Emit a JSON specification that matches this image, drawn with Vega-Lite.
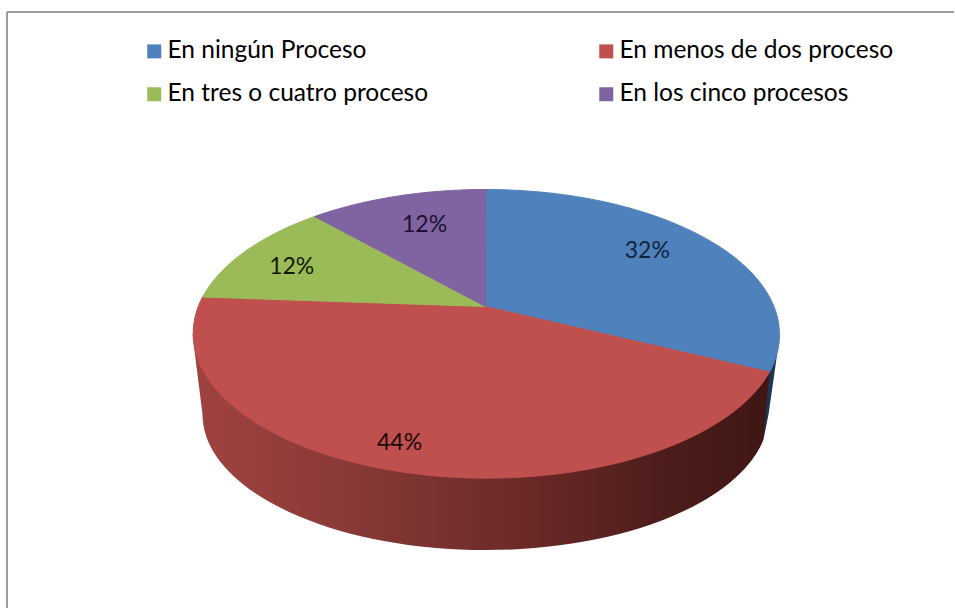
{
  "$schema": "https://vega.github.io/schema/vega-lite/v6.json",
  "width": 955,
  "height": 609,
  "autosize": {"type": "fit", "contains": "padding"},
  "padding": 0,
  "background": "white",
  "config": {"view": {"stroke": null}},
  "data": {"values": [
    {"id": "a", "slice": "En ningún Proceso", "pct": 32, "label": "32%"},
    {"id": "b", "slice": "En menos de dos proceso", "pct": 44, "label": "44%"},
    {"id": "c", "slice": "En tres o cuatro proceso", "pct": 12, "label": "12%"},
    {"id": "d", "slice": "En los cinco procesos", "pct": 12, "label": "12%"}
  ]},
  "encoding": {
    "x": {"datum": 0, "type": "quantitative", "axis": null, "scale": {"domain": [-477.5, 477.5]}},
    "y": {"datum": 0, "type": "quantitative", "axis": null, "scale": {"domain": [-304.5, 304.5], "reverse": true}}
  },
  "layer": [
    {
      "mark": {"type": "rule", "color": "#9c9c9c", "strokeWidth": 2},
      "encoding": {
        "x": {"datum": -470.5, "type": "quantitative"},
        "y": {"datum": -292.5, "type": "quantitative"},
        "y2": {"datum": 304.5}
      }
    },
    {
      "mark": {"type": "rule", "color": "#9c9c9c", "strokeWidth": 2},
      "encoding": {
        "x": {"datum": -470.5, "type": "quantitative"},
        "x2": {"datum": 477.5},
        "y": {"datum": -292.5, "type": "quantitative"}
      }
    },
    {
      "transform": [{"filter": "datum.id === 'a'"}],
      "mark": {"type": "point", "filled": true, "opacity": 1, "size": 4, "fill": "#1f3557", "stroke": null,
        "shape": "M280 60L301.5 40.5L291.5 110.5L286.5 135.5Z"}
    },
    {
      "transform": [{"filter": "datum.id === 'b'"}],
      "mark": {"type": "point", "filled": true, "opacity": 1, "size": 4, "stroke": null,
        "shape": "M-284.5 30.5L292.5 68L286.5 135.5A283 136 0 0 1 -274.5 110.5Z",
        "fill": {"gradient": "linear", "x1": 0, "y1": 0, "x2": 1, "y2": 0, "stops": [
          {"offset": 0, "color": "#a04340"},
          {"offset": 0.3, "color": "#863836"},
          {"offset": 0.55, "color": "#6d2b29"},
          {"offset": 0.8, "color": "#4f1e1c"},
          {"offset": 1, "color": "#3f1614"}
        ]}}
    },
    {
      "mark": {"type": "point", "filled": true, "opacity": 1, "size": 4, "strokeWidth": 1},
      "encoding": {
        "shape": {"field": "id", "type": "nominal", "legend": null, "scale": {
          "domain": ["a", "b", "c", "d"],
          "range": [
            "M8.5 2.5L9 -114.5A293.5 145 0 0 1 292.5 68Z",
            "M8.5 2.5L292.5 68A293.5 145 0 0 1 -274.5 -7Z",
            "M8.5 2.5L-274.5 -7A293.5 145 0 0 1 -162.5 -87.5Z",
            "M8.5 2.5L-162.5 -87.5A293.5 145 0 0 1 9 -114.5Z"
          ]
        }},
        "stroke": {"field": "id", "type": "nominal", "legend": null, "scale": {
          "domain": ["a", "b", "c", "d"],
          "range": ["#4f81bd", "#c0504d", "#9bbb59", "#8064a2"]
        }},
        "color": {"field": "slice", "type": "nominal",
          "scale": {
            "domain": ["En ningún Proceso", "En menos de dos proceso", "En tres o cuatro proceso", "En los cinco procesos"],
            "range": ["#4f81bd", "#c0504d", "#9bbb59", "#8064a2"]
          },
          "legend": {
            "title": null, "orient": "none", "direction": "horizontal", "legendX": 142, "legendY": 39, "columns": 2, "padding": 0,
            "columnPadding": 165, "rowPadding": 18, "symbolType": "square", "symbolSize": 196, "symbolStrokeWidth": 0,
            "labelFont": "Lato", "labelFontSize": 24.5, "labelColor": "#000000", "labelOffset": 1, "labelLimit": 400
          }
        }
      }
    },
    {
      "transform": [{"filter": "datum.id === 'a'"}],
      "mark": {"type": "text", "font": "Lato", "fontSize": 23, "color": "#15233a"},
      "encoding": {"x": {"datum": 170.5, "type": "quantitative"}, "y": {"datum": -53.5, "type": "quantitative"}, "text": {"field": "label"}}
    },
    {
      "transform": [{"filter": "datum.id === 'b'"}],
      "mark": {"type": "text", "font": "Lato", "fontSize": 23, "color": "#1a0a0a"},
      "encoding": {"x": {"datum": -77.5, "type": "quantitative"}, "y": {"datum": 139.5, "type": "quantitative"}, "text": {"field": "label"}}
    },
    {
      "transform": [{"filter": "datum.id === 'c'"}],
      "mark": {"type": "text", "font": "Lato", "fontSize": 23, "color": "#111a08"},
      "encoding": {"x": {"datum": -185.5, "type": "quantitative"}, "y": {"datum": -37.5, "type": "quantitative"}, "text": {"field": "label"}}
    },
    {
      "transform": [{"filter": "datum.id === 'd'"}],
      "mark": {"type": "text", "font": "Lato", "fontSize": 23, "color": "#1c1030"},
      "encoding": {"x": {"datum": -52.5, "type": "quantitative"}, "y": {"datum": -79.5, "type": "quantitative"}, "text": {"field": "label"}}
    }
  ]
}
